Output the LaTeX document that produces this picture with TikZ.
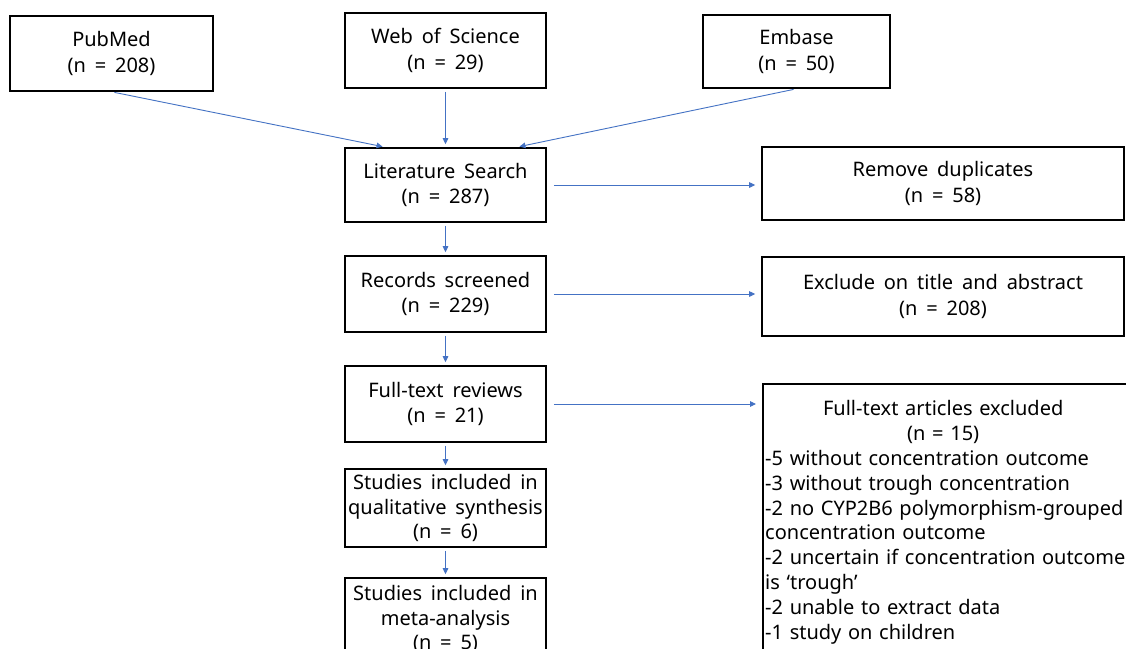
\documentclass[tikz,border=0pt]{standalone}
\usepackage{fontspec}
\setmainfont[WordSpace=1.7]{Noto Sans}
\usetikzlibrary{arrows.meta}
\definecolor{arrblue}{HTML}{4472C4}
\begin{document}
\begin{tikzpicture}[x=1pt,y=-1pt,
  box/.style={draw=black, line width=1.6pt, rectangle, inner sep=0pt, align=center,
    font=\fontsize{20}{25.5}\selectfont},
  arr/.style={draw=arrblue, line width=0.9pt, -{Triangle[length=6pt,width=5.5pt]},
    shorten <=3pt, shorten >=3pt},
  harr/.style={arr, shorten <=7pt, shorten >=6pt}]
\useasboundingbox (0,0) rectangle (1126,648);
\clip (0,0) rectangle (1126,648);
\fill[white] (0,0) rectangle (1126,648);
% sources
\node[box, minimum width=203pt, minimum height=75pt] (pub) at (111.5,53.5) {PubMed\\(n = 208)};
\node[box, minimum width=201pt, minimum height=75pt] (wos) at (445.5,50.5) {Web of Science\\(n = 29)};
\node[box, minimum width=187pt, minimum height=73pt] (emb) at (796.5,51.5) {Embase\\(n = 50)};
% main column
\node[box, minimum width=201pt, minimum height=74pt] (lit) at (445.5,185) {Literature Search\\(n = 287)};
\node[box, minimum width=201pt, minimum height=76pt] (rec) at (445.5,294) {Records screened\\(n = 229)};
\node[box, minimum width=201pt, minimum height=76pt] (ful) at (445.5,404) {Full-text reviews\\(n = 21)};
\node[box, minimum width=201pt, minimum height=78pt, font=\fontsize{20}{24.5}\selectfont] (qual) at (445.5,508) {Studies included in\\qualitative synthesis\\(n = 6)};
\node[box, minimum width=201pt, minimum height=82pt, font=\fontsize{20}{24.5}\selectfont] (meta) at (445.5,619) {Studies included in\\meta-analysis\\(n = 5)};
% right column
\node[box, minimum width=362pt, minimum height=73pt] (rem) at (943,183.5) {Remove duplicates\\(n = 58)};
\node[box, minimum width=362pt, minimum height=79pt] (exc) at (943,296.5) {Exclude on title and abstract\\(n = 208)};
\node[box, minimum width=368pt, minimum height=320pt, anchor=north west] (exf) at (762,383) {};
\node[anchor=north west, inner sep=0pt, text width=362pt, align=left,
  font=\fontsize{20}{24.9}\selectfont] (exft) at ([xshift=3pt,yshift=-17pt]exf.north west)
  {\hspace*{-3pt}\makebox[362pt]{Full-text articles excluded}\\
   \hspace*{-3pt}\makebox[362pt]{(n = 15)}\\
   -5 without concentration outcome\\
   -3 without trough concentration\\
   -2 no CYP2B6 polymorphism-grouped\\
   concentration outcome\\
   -2 uncertain if concentration outcome\\
   is ‘trough’\\
   -2 unable to extract data\\
   -1 study on children};
% arrows
\draw[arr] (pub.south) -- ([xshift=-60pt]lit.north);
\draw[arr] (wos.south) -- (lit.north);
\draw[arr] (emb.south) -- ([xshift=71pt]lit.north);
\draw[harr] (lit.east) -- (lit.east -| rem.west);
\draw[harr] (rec.east) -- (rec.east -| exc.west);
\draw[harr] (ful.east) -- (ful.east -| exf.west);
\draw[arr] (lit.south) -- (rec.north);
\draw[arr] (rec.south) -- (ful.north);
\draw[arr] (ful.south) -- (qual.north);
\draw[arr] (qual.south) -- (meta.north);
\end{tikzpicture}
\end{document}
